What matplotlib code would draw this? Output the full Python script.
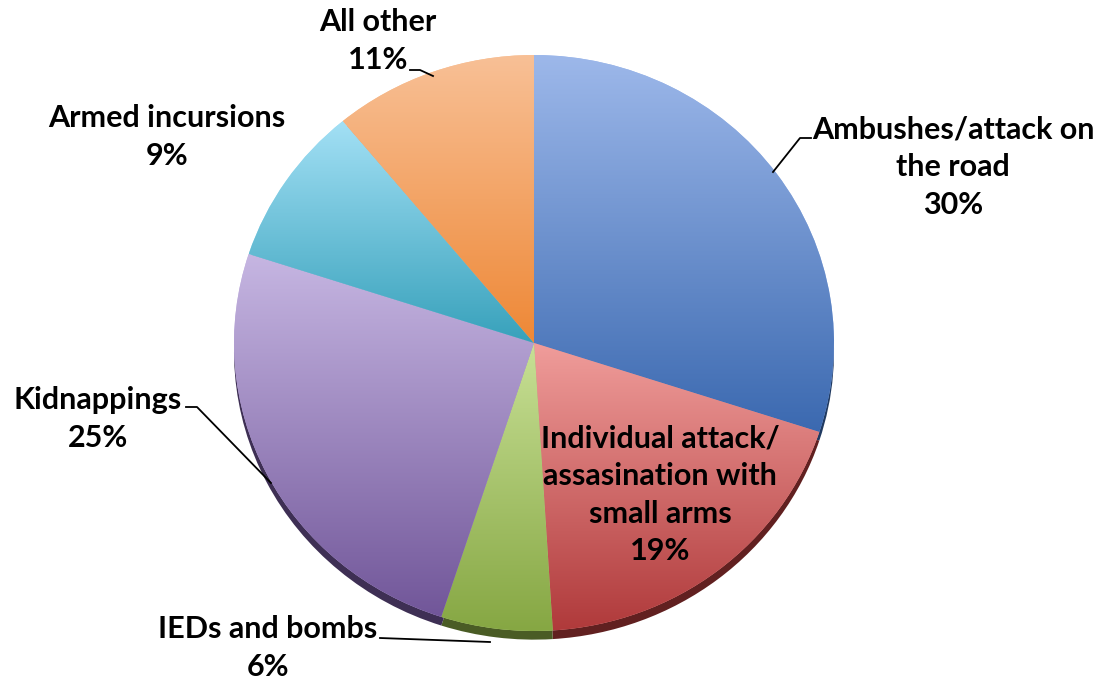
import numpy as np
import matplotlib.pyplot as plt
from matplotlib.colors import to_rgb

# slice data, clockwise from 12 o'clock
labels = ['Ambushes/attack on\nthe road', 'Individual attack/\nassasination with\nsmall arms',
          'IEDs and bombs', 'Kidnappings', 'Armed incursions', 'All other']
shares = [30, 19, 6, 25, 9, 11]
top_colors = ['#9db8ea', '#f09d9b', '#c8e096', '#c6b6e2', '#a3e0f5', '#f8c096']
bottom_colors = ['#3b69b0', '#b03a3b', '#86a743', '#715699', '#37a1bb', '#ee8836']

W, H = 1099, 681
cx, cy = 534, 343      # pie centre in pixels (from top)
rx, ry = 300, 288      # pixels per unit radius
depth = 0.03           # 3d rim

plt.rcParams['font.family'] = ['Lato', 'DejaVu Sans']
fig = plt.figure(figsize=(W / 100, H / 100), dpi=100)
ax = fig.add_axes([0, 0, 1, 1])


def px(x, y):
    return (x - cx) / rx, (cy - y) / ry


# rim underneath
rim, _ = ax.pie(shares, startangle=90, counterclock=False, radius=1,
                center=(0, -depth), colors=[tuple(c * 0.55 for c in to_rgb(b)) for b in bottom_colors],
                wedgeprops=dict(linewidth=0))
wedges, _ = ax.pie(shares, startangle=90, counterclock=False, radius=1,
                   colors=top_colors, wedgeprops=dict(linewidth=0))
ax.set_aspect('auto')

# vertical gradient inside each slice
for w, c1, c2 in zip(wedges, top_colors, bottom_colors):
    bb = w.get_path().get_extents(w.get_patch_transform())
    t = np.linspace(0, 1, 256)[:, None]
    grad = (1 - t) * np.array(to_rgb(c1)) + t * np.array(to_rgb(c2))
    im = ax.imshow(grad[:, None, :].repeat(2, axis=1), extent=[bb.x0, bb.x1, bb.y0, bb.y1],
                   origin='upper', aspect='auto', zorder=2, interpolation='bilinear')
    im.set_clip_path(w)
ax.set_xlim(-cx / rx, (W - cx) / rx)
ax.set_ylim(-(H - cy) / ry, cy / ry)
ax.axis('off')

# labels
pct = [f'{s}%' for s in shares]
label_pos = [(953, 167), (660, 495), (268, 648), (98, 419), (167, 137), (378, 41)]
for lab, p, (x, y) in zip(labels, pct, label_pos):
    ax.text(*px(x, y), lab + '\n' + p, ha='center', va='center', fontsize=22,
            fontweight='bold', linespacing=1.42, zorder=5)

# leader lines
leaders = [[(773, 172), (800, 138), (811, 138)],
           [(380, 638), (490, 642)],
           [(186, 407), (197, 407), (271, 483)],
           [(410, 70), (420, 70), (433, 76)]]
for pts in leaders:
    xs, ys = zip(*[px(a, b) for a, b in pts])
    ax.plot(xs, ys, color='black', lw=1.3, zorder=4)

fig.savefig('out.png', dpi=100)
